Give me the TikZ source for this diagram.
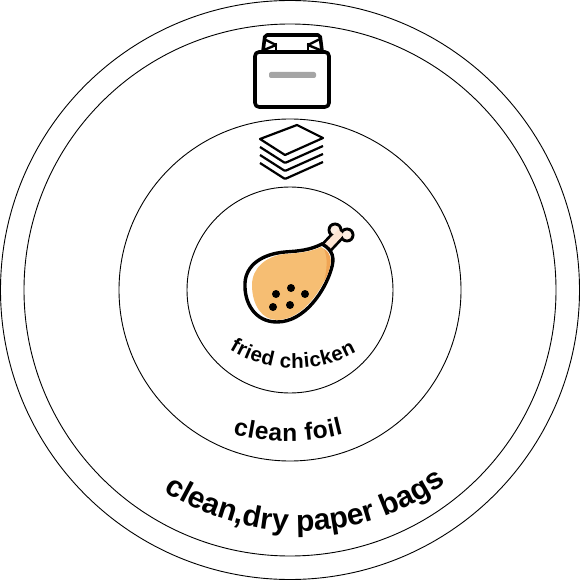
\documentclass[tikz,border=0pt]{standalone}
\usepackage{fontspec}
\setmainfont{Liberation Sans}
\usetikzlibrary{decorations.text}
\definecolor{ChickenFill}{RGB}{246,190,115}
\definecolor{ChickenDark}{RGB}{240,165,85}
\definecolor{BonePeach}{RGB}{251,217,190}
\definecolor{BarGray}{RGB}{165,165,165}

\begin{document}
\begin{tikzpicture}[x=1pt,y=-1pt, ring/.style={draw=black,circle,line width=0.9pt,inner sep=0pt}, curved/.style={decorate,decoration={text along path,text align={fit to path},text={#1}}}, bagline/.style={draw=black,line width=3.6pt,line join=round,rounded corners=2pt}, sheet/.style={draw=black,line width=2.2pt,line join=round}, seed/.style={fill=black,circle,inner sep=0pt,minimum size=8pt}]
\useasboundingbox (0,0) rectangle (581,580);
\node[ring,minimum size=579pt] (outerring) at (290,290) {};
\node[ring,minimum size=532pt] (bagring) at (290,290) {};
\node[ring,minimum size=342pt] (foilring) at (290,290) {};
\node[ring,minimum size=206pt] (chickenring) at (290,290) {};
% paper bag
\draw[bagline] (263,51) -- (265,35) -- (320,35) -- (322,51);
\draw[draw=black,line width=2.4pt,line join=round] (264,39) -- (276,45) -- (264,50);
\draw[draw=black,line width=2.4pt,line join=round] (320,39) -- (308,45) -- (320,50);
\draw[draw=black,line width=2.4pt] (276,43) -- (276,52);
\draw[draw=black,line width=2.4pt] (308,43) -- (308,52);
\draw[bagline,fill=white,rounded corners=4pt] (255,52) rectangle (329,107);
\fill[BarGray,rounded corners=2pt] (269,72) rectangle (316,78);
% stack of foil
\foreach \k in {3,2,1}
  \draw[sheet,rounded corners=1pt] (260,139+8*\k) -- (285,155+8*\k) -- (323,138+8*\k);
\draw[sheet,fill=white] (297,125) -- (323,138) -- (285,155) -- (260,139) -- cycle;
% chicken leg
\fill (335,230) circle[radius=7.5pt];
\fill (347,235) circle[radius=7.5pt];
\draw[line width=13pt] (341,232) -- (326,248);
\fill[BonePeach!45] (335,230) circle[radius=4.6pt];
\fill[BonePeach!45] (347,235) circle[radius=4.6pt];
\draw[BonePeach!70,line width=7.5pt] (341,232) -- (326,248);
\draw[draw=black,line width=3.4pt,fill=white] (322,244) .. controls (333,250) and (335,258) .. (331,270) .. controls (325,290) and (305,322) .. (277,322) .. controls (255,322) and (244,303) .. (245,283) .. controls (246,265) and (262,254) .. (285,252) .. controls (300,251) and (310,250) .. (322,244) -- cycle;
\fill[ChickenFill] (321,247) .. controls (331,252) and (332,260) .. (329,270) .. controls (323,288) and (303,320) .. (277,320) .. controls (262,320) and (252,305) .. (252,285) .. controls (252,268) and (266,256) .. (285,254) .. controls (300,253) and (310,252) .. (321,247) -- cycle;
\fill[ChickenDark] (324,249) .. controls (331,253) and (332,260) .. (329,270) .. controls (328,274) and (326,278) .. (324,281) .. controls (327,270) and (328,258) .. (324,249) -- cycle;
\node[seed] (seeda) at (276,294) {};
\node[seed] (seedb) at (291,288) {};
\node[seed] (seedc) at (305,294) {};
\node[seed] (seedd) at (273,307) {};
\node[seed] (seede) at (290,305) {};
% labels along the rings
\path[curved={|\fontsize{20.5}{20.5}\selectfont\bfseries|fried chicken}] (229.4,349.6) arc[start angle=238.6,end angle=299,radius=126pt];
\path[curved={|\fontsize{24.5}{24.5}\selectfont\bfseries|clean foil}] (233,434) arc[start angle=255.5,end angle=284.5,radius=220pt];
\path[curved={|\fontsize{30}{30}\selectfont\bfseries|clean,dry paper bags}] (164,491) arc[start angle=237,end angle=306,radius=249pt];
\end{tikzpicture}
\end{document}
